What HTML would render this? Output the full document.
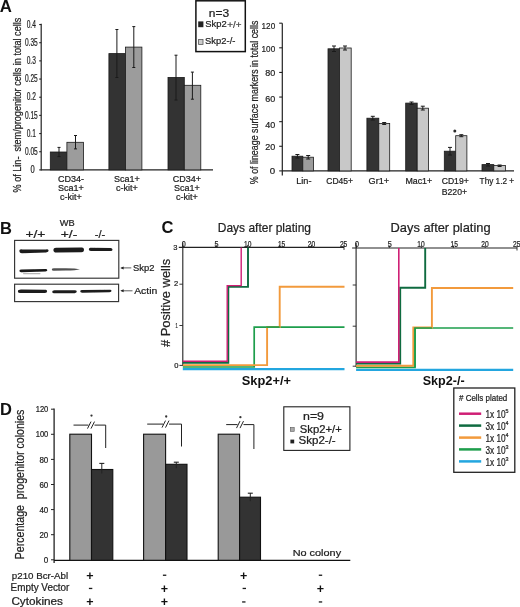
<!DOCTYPE html>
<html><head><meta charset="utf-8"><style>
html,body{margin:0;padding:0;background:#fff;}
svg{display:block;font-family:"Liberation Sans", sans-serif;will-change:transform;}
</style></head><body>
<svg width="520" height="607" viewBox="0 0 520 607">
<rect width="520" height="607" fill="#fff"/>
<text x="-0.2" y="12.4" font-size="16.8" text-anchor="start" font-weight="bold" fill="#111" >A</text>
<line x1="41.2" y1="23.8" x2="41.2" y2="170.6" stroke="#222" stroke-width="1.2" />
<line x1="41.2" y1="169.9" x2="213" y2="169.9" stroke="#222" stroke-width="1.4" />
<line x1="39.2" y1="169.9" x2="41.2" y2="169.9" stroke="#222" stroke-width="1.1" />
<text x="32.6" y="173.1" font-size="10" text-anchor="middle" stroke="#222" stroke-width="0.22" fill="#222" textLength="4.2" lengthAdjust="spacingAndGlyphs" >0</text>
<line x1="39.2" y1="151.73" x2="41.2" y2="151.73" stroke="#222" stroke-width="1.1" />
<text x="31.3" y="154.93" font-size="10" text-anchor="middle" stroke="#222" stroke-width="0.22" fill="#222" textLength="12.8" lengthAdjust="spacingAndGlyphs" >0.05</text>
<line x1="39.2" y1="133.56" x2="41.2" y2="133.56" stroke="#222" stroke-width="1.1" />
<text x="31.3" y="136.76" font-size="10" text-anchor="middle" stroke="#222" stroke-width="0.22" fill="#222" textLength="9.2" lengthAdjust="spacingAndGlyphs" >0.1</text>
<line x1="39.2" y1="115.38" x2="41.2" y2="115.38" stroke="#222" stroke-width="1.1" />
<text x="31.3" y="118.58" font-size="10" text-anchor="middle" stroke="#222" stroke-width="0.22" fill="#222" textLength="12.8" lengthAdjust="spacingAndGlyphs" >0.15</text>
<line x1="39.2" y1="97.22" x2="41.2" y2="97.22" stroke="#222" stroke-width="1.1" />
<text x="31.3" y="100.42" font-size="10" text-anchor="middle" stroke="#222" stroke-width="0.22" fill="#222" textLength="9.2" lengthAdjust="spacingAndGlyphs" >0.2</text>
<line x1="39.2" y1="79.05" x2="41.2" y2="79.05" stroke="#222" stroke-width="1.1" />
<text x="31.3" y="82.25" font-size="10" text-anchor="middle" stroke="#222" stroke-width="0.22" fill="#222" textLength="12.8" lengthAdjust="spacingAndGlyphs" >0.25</text>
<line x1="39.2" y1="60.87" x2="41.2" y2="60.87" stroke="#222" stroke-width="1.1" />
<text x="31.3" y="64.07" font-size="10" text-anchor="middle" stroke="#222" stroke-width="0.22" fill="#222" textLength="9.2" lengthAdjust="spacingAndGlyphs" >0.3</text>
<line x1="39.2" y1="42.70" x2="41.2" y2="42.70" stroke="#222" stroke-width="1.1" />
<text x="31.3" y="45.90" font-size="10" text-anchor="middle" stroke="#222" stroke-width="0.22" fill="#222" textLength="12.8" lengthAdjust="spacingAndGlyphs" >0.35</text>
<line x1="39.2" y1="24.53" x2="41.2" y2="24.53" stroke="#222" stroke-width="1.1" />
<text x="31.3" y="27.73" font-size="10" text-anchor="middle" stroke="#222" stroke-width="0.22" fill="#222" textLength="9.2" lengthAdjust="spacingAndGlyphs" >0.4</text>
<rect x="50.3" y="152" width="16.60" height="17.90" fill="#333333" stroke="#1a1a1a" stroke-width="0.8"/>
<rect x="66.9" y="142.3" width="16.59" height="27.59" fill="#9c9c9c" stroke="#1a1a1a" stroke-width="0.8"/>
<rect x="108.9" y="53.6" width="16.5" height="116.30" fill="#333333" stroke="#1a1a1a" stroke-width="0.8"/>
<rect x="125.4" y="47.1" width="16.5" height="122.80" fill="#9c9c9c" stroke="#1a1a1a" stroke-width="0.8"/>
<rect x="168" y="77.4" width="16.30" height="92.5" fill="#333333" stroke="#1a1a1a" stroke-width="0.8"/>
<rect x="184.3" y="85.3" width="16.5" height="84.60" fill="#9c9c9c" stroke="#1a1a1a" stroke-width="0.8"/>
<line x1="59" y1="147.4" x2="59" y2="156.6" stroke="#1a1a1a" stroke-width="1.0" />
<line x1="57.5" y1="147.4" x2="60.5" y2="147.4" stroke="#1a1a1a" stroke-width="1.0" />
<line x1="57.5" y1="156.6" x2="60.5" y2="156.6" stroke="#1a1a1a" stroke-width="1.0" />
<line x1="75.5" y1="135.5" x2="75.5" y2="148.9" stroke="#1a1a1a" stroke-width="1.0" />
<line x1="74.0" y1="135.5" x2="77.0" y2="135.5" stroke="#1a1a1a" stroke-width="1.0" />
<line x1="74.0" y1="148.9" x2="77.0" y2="148.9" stroke="#1a1a1a" stroke-width="1.0" />
<line x1="116.9" y1="29.5" x2="116.9" y2="77.5" stroke="#1a1a1a" stroke-width="1.0" />
<line x1="115.4" y1="29.5" x2="118.4" y2="29.5" stroke="#1a1a1a" stroke-width="1.0" />
<line x1="115.4" y1="77.5" x2="118.4" y2="77.5" stroke="#1a1a1a" stroke-width="1.0" />
<line x1="133.8" y1="26.6" x2="133.8" y2="67.5" stroke="#1a1a1a" stroke-width="1.0" />
<line x1="132.3" y1="26.6" x2="135.3" y2="26.6" stroke="#1a1a1a" stroke-width="1.0" />
<line x1="132.3" y1="67.5" x2="135.3" y2="67.5" stroke="#1a1a1a" stroke-width="1.0" />
<line x1="176" y1="55.2" x2="176" y2="100" stroke="#1a1a1a" stroke-width="1.0" />
<line x1="174.5" y1="55.2" x2="177.5" y2="55.2" stroke="#1a1a1a" stroke-width="1.0" />
<line x1="174.5" y1="100" x2="177.5" y2="100" stroke="#1a1a1a" stroke-width="1.0" />
<line x1="192.4" y1="72.1" x2="192.4" y2="99.2" stroke="#1a1a1a" stroke-width="1.0" />
<line x1="190.9" y1="72.1" x2="193.9" y2="72.1" stroke="#1a1a1a" stroke-width="1.0" />
<line x1="190.9" y1="99.2" x2="193.9" y2="99.2" stroke="#1a1a1a" stroke-width="1.0" />
<text x="71" y="182" font-size="9" text-anchor="middle" stroke="#222" stroke-width="0.22" fill="#222" >CD34-</text>
<text x="71" y="191" font-size="9" text-anchor="middle" stroke="#222" stroke-width="0.22" fill="#222" >Sca1+</text>
<text x="71" y="200" font-size="9" text-anchor="middle" stroke="#222" stroke-width="0.22" fill="#222" >c-kit+</text>
<text x="127" y="182" font-size="9" text-anchor="middle" stroke="#222" stroke-width="0.22" fill="#222" >Sca1+</text>
<text x="127" y="191" font-size="9" text-anchor="middle" stroke="#222" stroke-width="0.22" fill="#222" >c-kit+</text>
<text x="187" y="182" font-size="9" text-anchor="middle" stroke="#222" stroke-width="0.22" fill="#222" >CD34+</text>
<text x="187" y="191" font-size="9" text-anchor="middle" stroke="#222" stroke-width="0.22" fill="#222" >Sca1+</text>
<text x="187" y="200" font-size="9" text-anchor="middle" stroke="#222" stroke-width="0.22" fill="#222" >c-kit+</text>
<text x="20.8" y="192.4" font-size="10.6" text-anchor="start" stroke="#222" stroke-width="0.22" fill="#222" textLength="174.7" lengthAdjust="spacingAndGlyphs" transform="rotate(-90 20.8 192.4)" >% of Lin-&#160; stem/progenitor cells in total cells</text>
<rect x="195.9" y="0.8" width="49.4" height="50.8" fill="#fff" stroke="#111" stroke-width="1.5"/>
<text x="218.9" y="16.5" font-size="10" text-anchor="middle" stroke="#222" stroke-width="0.22" fill="#222" textLength="20.3" lengthAdjust="spacingAndGlyphs" >n=3</text>
<rect x="198.2" y="21.4" width="5.2" height="5.8" fill="#222"/>
<text x="205.3" y="27" font-size="9.5" text-anchor="start" stroke="#222" stroke-width="0.22" fill="#222" textLength="21.4" lengthAdjust="spacingAndGlyphs" >Skp2</text>
<text x="227.2" y="27.6" font-size="9.4" text-anchor="start" stroke="#444" stroke-width="0.22" fill="#444" textLength="14.2" lengthAdjust="spacingAndGlyphs" >+/+</text>
<rect x="198.6" y="39.5" width="4.4" height="4.9" fill="#ccc" stroke="#555" stroke-width="0.8"/>
<text x="205.1" y="44.4" font-size="9.3" text-anchor="start" stroke="#222" stroke-width="0.22" fill="#222" textLength="30.3" lengthAdjust="spacingAndGlyphs" >Skp2-/-</text>
<line x1="282.3" y1="23.2" x2="282.3" y2="175.4" stroke="#222" stroke-width="1.2" />
<line x1="282.3" y1="170.9" x2="514" y2="170.9" stroke="#222" stroke-width="1.4" />
<line x1="279.2" y1="170.9" x2="282.3" y2="170.9" stroke="#222" stroke-width="1.1" />
<text x="275.2" y="173.5" font-size="9.8" text-anchor="end" stroke="#222" stroke-width="0.22" fill="#222" textLength="5.4" lengthAdjust="spacingAndGlyphs" >0</text>
<line x1="279.2" y1="146.28" x2="282.3" y2="146.28" stroke="#222" stroke-width="1.1" />
<text x="275.2" y="149.6" font-size="9.8" text-anchor="end" stroke="#222" stroke-width="0.22" fill="#222" textLength="10.0" lengthAdjust="spacingAndGlyphs" >20</text>
<line x1="279.2" y1="121.66" x2="282.3" y2="121.66" stroke="#222" stroke-width="1.1" />
<text x="275.2" y="127.5" font-size="9.8" text-anchor="end" stroke="#222" stroke-width="0.22" fill="#222" textLength="10.0" lengthAdjust="spacingAndGlyphs" >40</text>
<line x1="279.2" y1="97.05" x2="282.3" y2="97.05" stroke="#222" stroke-width="1.1" />
<text x="275.2" y="102.1" font-size="9.8" text-anchor="end" stroke="#222" stroke-width="0.22" fill="#222" textLength="10.0" lengthAdjust="spacingAndGlyphs" >60</text>
<line x1="279.2" y1="72.43" x2="282.3" y2="72.43" stroke="#222" stroke-width="1.1" />
<text x="275.2" y="76.2" font-size="9.8" text-anchor="end" stroke="#222" stroke-width="0.22" fill="#222" textLength="10.0" lengthAdjust="spacingAndGlyphs" >80</text>
<line x1="279.2" y1="47.81" x2="282.3" y2="47.81" stroke="#222" stroke-width="1.1" />
<text x="275.2" y="52.0" font-size="9.8" text-anchor="end" stroke="#222" stroke-width="0.22" fill="#222" textLength="13.6" lengthAdjust="spacingAndGlyphs" >100</text>
<line x1="279.2" y1="23.19" x2="282.3" y2="23.19" stroke="#222" stroke-width="1.1" />
<text x="275.2" y="29.1" font-size="9.8" text-anchor="end" stroke="#222" stroke-width="0.22" fill="#222" textLength="13.6" lengthAdjust="spacingAndGlyphs" >120</text>
<rect x="292" y="156.2" width="10.80" height="14.70" fill="#333333" stroke="#1a1a1a" stroke-width="0.8"/>
<rect x="302.8" y="157.2" width="10.69" height="13.70" fill="#9c9c9c" stroke="#1a1a1a" stroke-width="0.8"/>
<rect x="328" y="48.8" width="11.5" height="122.10" fill="#333333" stroke="#1a1a1a" stroke-width="0.8"/>
<rect x="339.5" y="48" width="11.69" height="122.9" fill="#c8c8c8" stroke="#1a1a1a" stroke-width="0.8"/>
<rect x="366.9" y="118.2" width="11.90" height="52.7" fill="#333333" stroke="#1a1a1a" stroke-width="0.8"/>
<rect x="378.8" y="123.5" width="10.89" height="47.40" fill="#c8c8c8" stroke="#1a1a1a" stroke-width="0.8"/>
<rect x="405.7" y="103.1" width="11.5" height="67.80" fill="#333333" stroke="#1a1a1a" stroke-width="0.8"/>
<rect x="417.2" y="108.2" width="11.30" height="62.7" fill="#c8c8c8" stroke="#1a1a1a" stroke-width="0.8"/>
<rect x="444.3" y="151.2" width="11.39" height="19.70" fill="#333333" stroke="#1a1a1a" stroke-width="0.8"/>
<rect x="455.7" y="135.7" width="11.19" height="35.20" fill="#c8c8c8" stroke="#1a1a1a" stroke-width="0.8"/>
<rect x="482" y="164.6" width="11.80" height="6.30" fill="#333333" stroke="#1a1a1a" stroke-width="0.8"/>
<rect x="493.8" y="165.5" width="11.59" height="5.40" fill="#c8c8c8" stroke="#1a1a1a" stroke-width="0.8"/>
<line x1="297.4" y1="154.5" x2="297.4" y2="158" stroke="#1a1a1a" stroke-width="1.0" />
<line x1="295.4" y1="154.5" x2="299.4" y2="154.5" stroke="#1a1a1a" stroke-width="1.0" />
<line x1="295.4" y1="158" x2="299.4" y2="158" stroke="#1a1a1a" stroke-width="1.0" />
<line x1="308.2" y1="155.5" x2="308.2" y2="159" stroke="#1a1a1a" stroke-width="1.0" />
<line x1="306.2" y1="155.5" x2="310.2" y2="155.5" stroke="#1a1a1a" stroke-width="1.0" />
<line x1="306.2" y1="159" x2="310.2" y2="159" stroke="#1a1a1a" stroke-width="1.0" />
<line x1="334" y1="46" x2="334" y2="51.5" stroke="#1a1a1a" stroke-width="1.0" />
<line x1="332" y1="46" x2="336" y2="46" stroke="#1a1a1a" stroke-width="1.0" />
<line x1="332" y1="51.5" x2="336" y2="51.5" stroke="#1a1a1a" stroke-width="1.0" />
<line x1="345" y1="46" x2="345" y2="50" stroke="#1a1a1a" stroke-width="1.0" />
<line x1="343" y1="46" x2="347" y2="46" stroke="#1a1a1a" stroke-width="1.0" />
<line x1="343" y1="50" x2="347" y2="50" stroke="#1a1a1a" stroke-width="1.0" />
<line x1="372.8" y1="116.3" x2="372.8" y2="120" stroke="#1a1a1a" stroke-width="1.0" />
<line x1="370.8" y1="116.3" x2="374.8" y2="116.3" stroke="#1a1a1a" stroke-width="1.0" />
<line x1="370.8" y1="120" x2="374.8" y2="120" stroke="#1a1a1a" stroke-width="1.0" />
<line x1="384.2" y1="122.5" x2="384.2" y2="124.5" stroke="#1a1a1a" stroke-width="1.0" />
<line x1="382.2" y1="122.5" x2="386.2" y2="122.5" stroke="#1a1a1a" stroke-width="1.0" />
<line x1="382.2" y1="124.5" x2="386.2" y2="124.5" stroke="#1a1a1a" stroke-width="1.0" />
<line x1="411.5" y1="102" x2="411.5" y2="104.5" stroke="#1a1a1a" stroke-width="1.0" />
<line x1="409.5" y1="102" x2="413.5" y2="102" stroke="#1a1a1a" stroke-width="1.0" />
<line x1="409.5" y1="104.5" x2="413.5" y2="104.5" stroke="#1a1a1a" stroke-width="1.0" />
<line x1="422.8" y1="106.2" x2="422.8" y2="110" stroke="#1a1a1a" stroke-width="1.0" />
<line x1="420.8" y1="106.2" x2="424.8" y2="106.2" stroke="#1a1a1a" stroke-width="1.0" />
<line x1="420.8" y1="110" x2="424.8" y2="110" stroke="#1a1a1a" stroke-width="1.0" />
<line x1="450" y1="147.4" x2="450" y2="155" stroke="#1a1a1a" stroke-width="1.0" />
<line x1="448" y1="147.4" x2="452" y2="147.4" stroke="#1a1a1a" stroke-width="1.0" />
<line x1="448" y1="155" x2="452" y2="155" stroke="#1a1a1a" stroke-width="1.0" />
<line x1="461.3" y1="134.7" x2="461.3" y2="136.7" stroke="#1a1a1a" stroke-width="1.0" />
<line x1="459.3" y1="134.7" x2="463.3" y2="134.7" stroke="#1a1a1a" stroke-width="1.0" />
<line x1="459.3" y1="136.7" x2="463.3" y2="136.7" stroke="#1a1a1a" stroke-width="1.0" />
<line x1="488" y1="163.5" x2="488" y2="166" stroke="#1a1a1a" stroke-width="1.0" />
<line x1="486" y1="163.5" x2="490" y2="163.5" stroke="#1a1a1a" stroke-width="1.0" />
<line x1="486" y1="166" x2="490" y2="166" stroke="#1a1a1a" stroke-width="1.0" />
<line x1="499.6" y1="165" x2="499.6" y2="166.5" stroke="#1a1a1a" stroke-width="1.0" />
<line x1="497.6" y1="165" x2="501.6" y2="165" stroke="#1a1a1a" stroke-width="1.0" />
<line x1="497.6" y1="166.5" x2="501.6" y2="166.5" stroke="#1a1a1a" stroke-width="1.0" />
<circle cx="454.8" cy="131.1" r="1.5" fill="#2a2a2a"/>
<text x="303.8" y="183.9" font-size="9" text-anchor="middle" stroke="#222" stroke-width="0.22" fill="#222" textLength="15.3" lengthAdjust="spacingAndGlyphs" >Lin-</text>
<text x="339.7" y="183.9" font-size="9" text-anchor="middle" stroke="#222" stroke-width="0.22" fill="#222" textLength="26.7" lengthAdjust="spacingAndGlyphs" >CD45+</text>
<text x="378.8" y="183.9" font-size="9" text-anchor="middle" stroke="#222" stroke-width="0.22" fill="#222" textLength="20.5" lengthAdjust="spacingAndGlyphs" >Gr1+</text>
<text x="418.8" y="183.9" font-size="9" text-anchor="middle" stroke="#222" stroke-width="0.22" fill="#222" textLength="26.8" lengthAdjust="spacingAndGlyphs" >Mac1+</text>
<text x="455.2" y="183.9" font-size="9" text-anchor="middle" stroke="#222" stroke-width="0.22" fill="#222" textLength="27" lengthAdjust="spacingAndGlyphs" >CD19+</text>
<text x="496.9" y="183.9" font-size="9" text-anchor="middle" stroke="#222" stroke-width="0.22" fill="#222" textLength="34.6" lengthAdjust="spacingAndGlyphs" >Thy 1.2 +</text>
<text x="454.4" y="195.3" font-size="9" text-anchor="middle" stroke="#222" stroke-width="0.22" fill="#222" textLength="25.3" lengthAdjust="spacingAndGlyphs" >B220+</text>
<text x="258" y="184.2" font-size="10.5" text-anchor="start" stroke="#222" stroke-width="0.22" fill="#222" textLength="163.6" lengthAdjust="spacingAndGlyphs" transform="rotate(-90 258 184.2)" >% of lineage surface markers in total cells</text>
<text x="0" y="234.3" font-size="16.5" text-anchor="start" font-weight="bold" fill="#111" >B</text>
<text x="35.4" y="238.3" font-size="10" text-anchor="middle" stroke="#222" stroke-width="0.22" fill="#222" textLength="20" lengthAdjust="spacingAndGlyphs" >+/+</text>
<text x="67.2" y="226" font-size="9" text-anchor="middle" stroke="#222" stroke-width="0.22" fill="#222" textLength="14.9" lengthAdjust="spacingAndGlyphs" >WB</text>
<text x="69" y="238.3" font-size="10" text-anchor="middle" stroke="#222" stroke-width="0.22" fill="#222" textLength="16.5" lengthAdjust="spacingAndGlyphs" >+/-</text>
<text x="100" y="238.3" font-size="10" text-anchor="middle" stroke="#222" stroke-width="0.22" fill="#222" textLength="10.5" lengthAdjust="spacingAndGlyphs" >-/-</text>
<rect x="14.6" y="240.4" width="104.2" height="37.8" fill="none" stroke="#333" stroke-width="1.15"/>
<rect x="14.6" y="284.2" width="104" height="17.4" fill="none" stroke="#333" stroke-width="1.15"/>
<defs><filter id="bl" x="-10%" y="-100%" width="120%" height="300%"><feGaussianBlur stdDeviation="0.65"/></filter></defs>
<path d="M19.3 250.9 Q19.5 253.6 22.5 253.3 L46 252.5 Q48.8 252.2 48.6 250.5 Q48.3 249 46 249.4 L22.5 249.4 Q19.3 248.6 19.3 250.9 Z" fill="#1c1c1c" opacity="1" filter="url(#bl)"/>
<path d="M53.4 249.8 Q53.4 252.8 56.5 252.6 L81.5 252.2 Q84.2 251.8 84 249.4 Q83.8 247 81 247.6 L56.5 247.8 Q53.4 247.6 53.4 249.8 Z" fill="#1c1c1c" opacity="1" filter="url(#bl)"/>
<path d="M88.8 249.3 Q88.8 251.2 91 251.1 L110.5 251.1 Q112.6 251 112.5 249.4 Q112.3 247.8 110.5 247.9 L91 247.8 Q88.8 247.6 88.8 249.3 Z" fill="#1c1c1c" opacity="1" filter="url(#bl)"/>
<path d="M19.4 270.8 Q19.4 272.4 21.5 272.2 L45.5 271.5 Q47.4 271.2 47.3 270.2 Q47.1 268.8 45.5 269 L21.5 269.4 Q19.4 269.4 19.4 270.8 Z" fill="#161616" opacity="1" filter="url(#bl)"/>
<rect x="23" y="273.05" width="17.5" height="1.1" rx="0.55" fill="#777" opacity="0.55" filter="url(#bl)"/>
<path d="M51.8 269.6 Q51.8 270.9 54 270.8 L66 270.5 Q76 270.2 80 269.4 Q76 268.4 66 268.3 L54 268.3 Q51.8 268.3 51.8 269.6 Z" fill="#333" opacity="0.85" filter="url(#bl)"/>
<path d="M17.9 291.4 Q17.9 293.2 21 293 L45 292.9 Q47.2 292.8 47.1 291.2 Q47 289.7 45 289.8 L21 289.6 Q17.9 289.6 17.9 291.4 Z" fill="#1c1c1c" opacity="1" filter="url(#bl)"/>
<path d="M52.2 291.8 Q52.2 293.4 54.5 293.3 L74.5 293.2 Q77 293 76.8 291.6 Q76.6 290.2 74.5 290.3 L54.5 290.2 Q52.2 290.2 52.2 291.8 Z" fill="#1c1c1c" opacity="1" filter="url(#bl)"/>
<path d="M80.2 291.3 Q80.2 292.8 82.5 292.7 L109.5 292.2 Q111.6 292 111.5 290.8 Q111.4 289.6 109.5 289.8 L82.5 289.9 Q80.2 289.8 80.2 291.3 Z" fill="#1c1c1c" opacity="1" filter="url(#bl)"/>
<line x1="121.5" y1="267.9" x2="131.3" y2="267.9" stroke="#333" stroke-width="0.8" />
<path d="M120.3 267.9 L123.6 266.4 L123.6 269.4 Z" fill="#222"/>
<line x1="121.5" y1="290.8" x2="132.5" y2="290.8" stroke="#333" stroke-width="0.8" />
<path d="M120.3 290.8 L123.6 289.3 L123.6 292.3 Z" fill="#222"/>
<text x="133" y="271.2" font-size="9.4" text-anchor="start" stroke="#222" stroke-width="0.22" fill="#222" textLength="21.4" lengthAdjust="spacingAndGlyphs" >Skp2</text>
<text x="134.2" y="293.7" font-size="9.4" text-anchor="start" stroke="#222" stroke-width="0.22" fill="#222" textLength="23.1" lengthAdjust="spacingAndGlyphs" >Actin</text>
<text x="161.6" y="233.4" font-size="16.5" text-anchor="start" font-weight="bold" fill="#111" >C</text>
<line x1="178.8" y1="247.4" x2="344" y2="247.4" stroke="#222" stroke-width="1.2" />
<line x1="182.8" y1="242.4" x2="182.8" y2="365.9" stroke="#222" stroke-width="1.1" />
<line x1="182.8" y1="244.9" x2="182.8" y2="247.4" stroke="#222" stroke-width="0.9" />
<text x="183.7" y="246.5" font-size="8.3" text-anchor="middle" stroke="#222" stroke-width="0.22" fill="#222" textLength="4.0" lengthAdjust="spacingAndGlyphs" >0</text>
<line x1="216.2" y1="244.9" x2="216.2" y2="247.4" stroke="#222" stroke-width="0.9" />
<text x="216.6" y="246.5" font-size="8.3" text-anchor="middle" stroke="#222" stroke-width="0.22" fill="#222" textLength="4.0" lengthAdjust="spacingAndGlyphs" >5</text>
<line x1="247.7" y1="244.9" x2="247.7" y2="247.4" stroke="#222" stroke-width="0.9" />
<text x="247.7" y="246.5" font-size="8.3" text-anchor="middle" stroke="#222" stroke-width="0.22" fill="#222" textLength="7.4" lengthAdjust="spacingAndGlyphs" >10</text>
<line x1="279.4" y1="244.9" x2="279.4" y2="247.4" stroke="#222" stroke-width="0.9" />
<text x="281.6" y="246.5" font-size="8.3" text-anchor="middle" stroke="#222" stroke-width="0.22" fill="#222" textLength="7.4" lengthAdjust="spacingAndGlyphs" >15</text>
<line x1="311.5" y1="244.9" x2="311.5" y2="247.4" stroke="#222" stroke-width="0.9" />
<text x="311.5" y="246.5" font-size="8.3" text-anchor="middle" stroke="#222" stroke-width="0.22" fill="#222" textLength="7.4" lengthAdjust="spacingAndGlyphs" >20</text>
<line x1="344" y1="244.9" x2="344" y2="247.4" stroke="#222" stroke-width="0.9" />
<text x="343.6" y="246.5" font-size="8.3" text-anchor="middle" stroke="#222" stroke-width="0.22" fill="#222" textLength="7.4" lengthAdjust="spacingAndGlyphs" >25</text>
<line x1="344" y1="247.4" x2="344" y2="249.9" stroke="#222" stroke-width="0.9" />
<line x1="179.4" y1="284.2" x2="182.8" y2="284.2" stroke="#222" stroke-width="0.9" />
<line x1="179.4" y1="325.5" x2="182.8" y2="325.5" stroke="#222" stroke-width="0.9" />
<line x1="179.4" y1="365.4" x2="182.8" y2="365.4" stroke="#222" stroke-width="0.9" />
<text x="175.4" y="249.8" font-size="7.2" text-anchor="middle" stroke="#222" stroke-width="0.22" fill="#222" textLength="4.2" lengthAdjust="spacingAndGlyphs" >3</text>
<text x="176.2" y="286.1" font-size="7.2" text-anchor="middle" stroke="#222" stroke-width="0.22" fill="#222" textLength="4.2" lengthAdjust="spacingAndGlyphs" >2</text>
<text x="176.6" y="327.6" font-size="7.2" text-anchor="middle" stroke="#222" stroke-width="0.22" fill="#222" textLength="2.2" lengthAdjust="spacingAndGlyphs" >1</text>
<text x="176.3" y="367.8" font-size="7.2" text-anchor="middle" stroke="#222" stroke-width="0.22" fill="#222" textLength="4.2" lengthAdjust="spacingAndGlyphs" >0</text>
<text x="217.8" y="231.9" font-size="13" text-anchor="start" stroke="#222" stroke-width="0.22" fill="#222" textLength="93.2" lengthAdjust="spacingAndGlyphs" >Days after plating</text>
<text x="170.5" y="347.1" font-size="12.8" text-anchor="start" stroke="#222" stroke-width="0.22" fill="#222" textLength="88.4" lengthAdjust="spacingAndGlyphs" transform="rotate(-90 170.5 347.1)" ># Positive wells</text>
<line x1="352.1" y1="248" x2="517" y2="248" stroke="#222" stroke-width="1.2" />
<line x1="356.1" y1="243" x2="356.1" y2="366.7" stroke="#222" stroke-width="1.1" />
<line x1="356.4" y1="245.5" x2="356.4" y2="248" stroke="#222" stroke-width="0.9" />
<text x="357.1" y="247.1" font-size="8.3" text-anchor="middle" stroke="#222" stroke-width="0.22" fill="#222" textLength="4.0" lengthAdjust="spacingAndGlyphs" >0</text>
<line x1="389.3" y1="245.5" x2="389.3" y2="248" stroke="#222" stroke-width="0.9" />
<text x="389.8" y="247.1" font-size="8.3" text-anchor="middle" stroke="#222" stroke-width="0.22" fill="#222" textLength="4.0" lengthAdjust="spacingAndGlyphs" >5</text>
<line x1="421.3" y1="245.5" x2="421.3" y2="248" stroke="#222" stroke-width="0.9" />
<text x="420.9" y="247.1" font-size="8.3" text-anchor="middle" stroke="#222" stroke-width="0.22" fill="#222" textLength="7.4" lengthAdjust="spacingAndGlyphs" >10</text>
<line x1="453.3" y1="245.5" x2="453.3" y2="248" stroke="#222" stroke-width="0.9" />
<text x="454.2" y="247.1" font-size="8.3" text-anchor="middle" stroke="#222" stroke-width="0.22" fill="#222" textLength="7.4" lengthAdjust="spacingAndGlyphs" >15</text>
<line x1="485.2" y1="245.5" x2="485.2" y2="248" stroke="#222" stroke-width="0.9" />
<text x="485" y="247.1" font-size="8.3" text-anchor="middle" stroke="#222" stroke-width="0.22" fill="#222" textLength="7.4" lengthAdjust="spacingAndGlyphs" >20</text>
<line x1="517" y1="245.5" x2="517" y2="248" stroke="#222" stroke-width="0.9" />
<text x="516.7" y="247.1" font-size="8.3" text-anchor="middle" stroke="#222" stroke-width="0.22" fill="#222" textLength="7.4" lengthAdjust="spacingAndGlyphs" >25</text>
<line x1="517" y1="248" x2="517" y2="250.5" stroke="#222" stroke-width="0.9" />
<line x1="352.70" y1="285" x2="356.1" y2="285" stroke="#222" stroke-width="0.9" />
<line x1="352.70" y1="326.2" x2="356.1" y2="326.2" stroke="#222" stroke-width="0.9" />
<line x1="352.70" y1="366.2" x2="356.1" y2="366.2" stroke="#222" stroke-width="0.9" />
<text x="390.6" y="231.9" font-size="13" text-anchor="start" stroke="#222" stroke-width="0.22" fill="#222" textLength="100" lengthAdjust="spacingAndGlyphs" >Days after plating</text>
<path d="M182.8 369.2 L344.5 369.2" stroke="#23a6df" stroke-width="2.3" fill="none" stroke-linejoin="miter" stroke-linecap="butt"/>
<path d="M182.8 367 L254.2 367 L254.2 327.1 L344.5 327.1" stroke="#1e9e4c" stroke-width="1.7" fill="none" stroke-linejoin="miter" stroke-linecap="butt"/>
<path d="M182.8 365.1 L267.1 365.1 L267.1 327.1 L279.7 327.1 L279.7 286.8 L344.5 286.8" stroke="#f29a3c" stroke-width="1.9" fill="none" stroke-linejoin="miter" stroke-linecap="butt"/>
<path d="M182.8 362.8 L228.3 362.8 L228.3 286.9 L248 286.9 L248 247.4" stroke="#0f6b40" stroke-width="1.9" fill="none" stroke-linejoin="miter" stroke-linecap="butt"/>
<path d="M182.8 361.2 L227.2 361.2 L227.2 285.6 L241.2 285.6 L241.2 247.4" stroke="#cf1f75" stroke-width="1.4" fill="none" stroke-linejoin="miter" stroke-linecap="butt"/>
<path d="M266.2 327.1 L279.7 327.1" stroke="#1e9e4c" stroke-width="1.7" fill="none" stroke-linejoin="miter" stroke-linecap="butt"/>
<path d="M356.1 369.9 L513.2 369.9" stroke="#23a6df" stroke-width="2.3" fill="none" stroke-linejoin="miter" stroke-linecap="butt"/>
<path d="M356.1 367.3 L415 367.3 L415 328 L513.2 328" stroke="#1e9e4c" stroke-width="1.7" fill="none" stroke-linejoin="miter" stroke-linecap="butt"/>
<path d="M356.1 365.8 L413.3 365.8 L413.3 327.5 L431.9 327.5 L431.9 288 L513.2 288" stroke="#f29a3c" stroke-width="1.9" fill="none" stroke-linejoin="miter" stroke-linecap="butt"/>
<path d="M356.1 363.6 L400.2 363.6 L400.2 287.7 L425.2 287.7 L425.2 248" stroke="#0f6b40" stroke-width="1.9" fill="none" stroke-linejoin="miter" stroke-linecap="butt"/>
<path d="M356.1 362.1 L398.8 362.1 L398.8 248" stroke="#cf1f75" stroke-width="1.6" fill="none" stroke-linejoin="miter" stroke-linecap="butt"/>
<path d="M415 367.3 L415 328 L431.9 328" stroke="#1e9e4c" stroke-width="1.7" fill="none" stroke-linejoin="miter" stroke-linecap="butt"/>
<text x="241.7" y="385.2" font-size="12.5" text-anchor="start" font-weight="bold" fill="#111" textLength="49.3" lengthAdjust="spacingAndGlyphs" >Skp2+/+</text>
<text x="422.7" y="385.2" font-size="12.5" text-anchor="start" font-weight="bold" fill="#111" textLength="41.9" lengthAdjust="spacingAndGlyphs" >Skp2-/-</text>
<rect x="453.8" y="388" width="61" height="84.3" fill="#fff" stroke="#222" stroke-width="1.3"/>
<text x="459" y="400.6" font-size="9" text-anchor="start" stroke="#222" stroke-width="0.22" fill="#222" textLength="48.3" lengthAdjust="spacingAndGlyphs" ># Cells plated</text>
<line x1="459" y1="413.7" x2="481.2" y2="413.7" stroke="#cf1f75" stroke-width="2.5" />
<text x="485.5" y="418.0" font-size="10.8" text-anchor="start" stroke="#222" stroke-width="0.22" fill="#222" textLength="20.2" lengthAdjust="spacingAndGlyphs" >1x 10</text>
<text x="505.6" y="412.8" font-size="6" text-anchor="start" stroke="#222" stroke-width="0.22" fill="#222" textLength="3" lengthAdjust="spacingAndGlyphs" >5</text>
<line x1="459" y1="425.6" x2="481.2" y2="425.6" stroke="#0f6b40" stroke-width="2.5" />
<text x="485.5" y="429.90" font-size="10.8" text-anchor="start" stroke="#222" stroke-width="0.22" fill="#222" textLength="20.2" lengthAdjust="spacingAndGlyphs" >3x 10</text>
<text x="505.6" y="424.70" font-size="6" text-anchor="start" stroke="#222" stroke-width="0.22" fill="#222" textLength="3" lengthAdjust="spacingAndGlyphs" >4</text>
<line x1="459" y1="437.6" x2="481.2" y2="437.6" stroke="#f29a3c" stroke-width="2.5" />
<text x="485.5" y="441.90" font-size="10.8" text-anchor="start" stroke="#222" stroke-width="0.22" fill="#222" textLength="20.2" lengthAdjust="spacingAndGlyphs" >1x 10</text>
<text x="505.6" y="436.70" font-size="6" text-anchor="start" stroke="#222" stroke-width="0.22" fill="#222" textLength="3" lengthAdjust="spacingAndGlyphs" >4</text>
<line x1="459" y1="449.4" x2="481.2" y2="449.4" stroke="#1e9e4c" stroke-width="2.5" />
<text x="485.5" y="453.7" font-size="10.8" text-anchor="start" stroke="#222" stroke-width="0.22" fill="#222" textLength="20.2" lengthAdjust="spacingAndGlyphs" >3x 10</text>
<text x="505.6" y="448.5" font-size="6" text-anchor="start" stroke="#222" stroke-width="0.22" fill="#222" textLength="3" lengthAdjust="spacingAndGlyphs" >3</text>
<line x1="459" y1="461.4" x2="481.2" y2="461.4" stroke="#23a6df" stroke-width="2.5" />
<text x="485.5" y="465.7" font-size="10.8" text-anchor="start" stroke="#222" stroke-width="0.22" fill="#222" textLength="20.2" lengthAdjust="spacingAndGlyphs" >1x 10</text>
<text x="505.6" y="460.5" font-size="6" text-anchor="start" stroke="#222" stroke-width="0.22" fill="#222" textLength="3" lengthAdjust="spacingAndGlyphs" >3</text>
<text x="0" y="414.6" font-size="16.5" text-anchor="start" font-weight="bold" fill="#111" >D</text>
<line x1="54.1" y1="408.5" x2="54.1" y2="563" stroke="#111" stroke-width="1.2" />
<line x1="54.1" y1="560.3" x2="350.3" y2="560.3" stroke="#111" stroke-width="1.2" />
<line x1="51" y1="559.8" x2="54" y2="559.8" stroke="#222" stroke-width="1" />
<text x="48.3" y="562.9" font-size="8.4" text-anchor="end" stroke="#222" stroke-width="0.22" fill="#222" textLength="4.5" lengthAdjust="spacingAndGlyphs" >0</text>
<line x1="51" y1="534.69" x2="54" y2="534.69" stroke="#222" stroke-width="1" />
<text x="48.3" y="537.8" font-size="8.4" text-anchor="end" stroke="#222" stroke-width="0.22" fill="#222" textLength="8.9" lengthAdjust="spacingAndGlyphs" >20</text>
<line x1="51" y1="509.59" x2="54" y2="509.59" stroke="#222" stroke-width="1" />
<text x="48.3" y="512.69" font-size="8.4" text-anchor="end" stroke="#222" stroke-width="0.22" fill="#222" textLength="8.9" lengthAdjust="spacingAndGlyphs" >40</text>
<line x1="51" y1="484.5" x2="54" y2="484.5" stroke="#222" stroke-width="1" />
<text x="48.3" y="487.6" font-size="8.4" text-anchor="end" stroke="#222" stroke-width="0.22" fill="#222" textLength="8.9" lengthAdjust="spacingAndGlyphs" >60</text>
<line x1="51" y1="459.4" x2="54" y2="459.4" stroke="#222" stroke-width="1" />
<text x="48.3" y="462.5" font-size="8.4" text-anchor="end" stroke="#222" stroke-width="0.22" fill="#222" textLength="8.9" lengthAdjust="spacingAndGlyphs" >80</text>
<line x1="51" y1="434.29" x2="54" y2="434.29" stroke="#222" stroke-width="1" />
<text x="48.3" y="437.4" font-size="8.4" text-anchor="end" stroke="#222" stroke-width="0.22" fill="#222" textLength="12.6" lengthAdjust="spacingAndGlyphs" >100</text>
<line x1="51" y1="409.2" x2="54" y2="409.2" stroke="#222" stroke-width="1" />
<text x="48.3" y="412.3" font-size="8.4" text-anchor="end" stroke="#222" stroke-width="0.22" fill="#222" textLength="12.6" lengthAdjust="spacingAndGlyphs" >120</text>
<text x="23.7" y="559.2" font-size="12" text-anchor="start" stroke="#222" stroke-width="0.22" fill="#222" textLength="149.6" lengthAdjust="spacingAndGlyphs" transform="rotate(-90 23.7 559.2)" >Percentage&#160; progenitor colonies</text>
<rect x="69.8" y="434.2" width="21.70" height="126.09" fill="#999999" stroke="#111" stroke-width="1.1"/>
<rect x="91.5" y="469.5" width="21.29" height="90.79" fill="#333333" stroke="#111" stroke-width="1.1"/>
<line x1="101.8" y1="463.4" x2="101.8" y2="473.5" stroke="#222" stroke-width="1" />
<line x1="99.3" y1="463.4" x2="104.3" y2="463.4" stroke="#222" stroke-width="1.1" />
<rect x="143.6" y="434.2" width="22.0" height="126.09" fill="#999999" stroke="#111" stroke-width="1.1"/>
<rect x="165.6" y="464.3" width="21.40" height="95.99" fill="#333333" stroke="#111" stroke-width="1.1"/>
<line x1="176.3" y1="462.2" x2="176.3" y2="468.3" stroke="#222" stroke-width="1" />
<line x1="173.8" y1="462.2" x2="178.8" y2="462.2" stroke="#222" stroke-width="1.1" />
<rect x="218.2" y="434.2" width="21.40" height="126.09" fill="#999999" stroke="#111" stroke-width="1.1"/>
<rect x="239.6" y="497.2" width="20.90" height="63.09" fill="#333333" stroke="#111" stroke-width="1.1"/>
<line x1="250.3" y1="493.2" x2="250.3" y2="501.2" stroke="#222" stroke-width="1" />
<line x1="247.8" y1="493.2" x2="252.8" y2="493.2" stroke="#222" stroke-width="1.1" />
<path d="M73.5 425.1 L105.7 425.1 L105.7 448" stroke="#222" stroke-width="1" fill="none" />
<rect x="88.5" y="423.1" width="6" height="4" fill="#fff"/>
<line x1="87.5" y1="428.6" x2="91.0" y2="421.6" stroke="#222" stroke-width="1" />
<line x1="91.0" y1="428.6" x2="94.5" y2="421.6" stroke="#222" stroke-width="1" />
<circle cx="91.5" cy="415.6" r="1.15" fill="#333"/>
<path d="M147.2 424.1 L181.5 424.1 L181.5 446.5" stroke="#222" stroke-width="1" fill="none" />
<rect x="163" y="422.1" width="6" height="4" fill="#fff"/>
<line x1="162" y1="427.6" x2="165.5" y2="420.6" stroke="#222" stroke-width="1" />
<line x1="165.5" y1="427.6" x2="169" y2="420.6" stroke="#222" stroke-width="1" />
<circle cx="166.2" cy="416.5" r="1.15" fill="#333"/>
<path d="M226.2 424.6 L253.9 424.6 L253.9 449" stroke="#222" stroke-width="1" fill="none" />
<rect x="237.5" y="422.6" width="6" height="4" fill="#fff"/>
<line x1="236.5" y1="428.1" x2="240.0" y2="421.1" stroke="#222" stroke-width="1" />
<line x1="240.0" y1="428.1" x2="243.5" y2="421.1" stroke="#222" stroke-width="1" />
<circle cx="240.4" cy="417.2" r="1.15" fill="#333"/>
<rect x="283.8" y="406.8" width="66.1" height="43.6" fill="#fff" stroke="#222" stroke-width="1.1"/>
<text x="313.5" y="420.2" font-size="10" text-anchor="middle" stroke="#222" stroke-width="0.22" fill="#222" textLength="21" lengthAdjust="spacingAndGlyphs" >n=9</text>
<rect x="290.4" y="427.5" width="3.8" height="3.8" fill="#aaa" stroke="#555" stroke-width="0.6"/>
<text x="299.8" y="433" font-size="10" text-anchor="start" stroke="#222" stroke-width="0.22" fill="#222" textLength="42" lengthAdjust="spacingAndGlyphs" >Skp2+/+</text>
<rect x="290.4" y="439.6" width="3.8" height="3.8" fill="#222"/>
<text x="298.5" y="444.3" font-size="10" text-anchor="start" stroke="#222" stroke-width="0.22" fill="#222" textLength="37.2" lengthAdjust="spacingAndGlyphs" >Skp2-/-</text>
<text x="292.7" y="556.4" font-size="9.8" text-anchor="start" stroke="#222" stroke-width="0.22" fill="#222" textLength="48.4" lengthAdjust="spacingAndGlyphs" >No colony</text>
<text x="11.8" y="578.5" font-size="9.9" text-anchor="start" stroke="#222" stroke-width="0.22" fill="#222" textLength="56.4" lengthAdjust="spacingAndGlyphs" >p210 Bcr-Abl</text>
<text x="10.6" y="590.6" font-size="10" text-anchor="start" stroke="#222" stroke-width="0.22" fill="#222" textLength="58.8" lengthAdjust="spacingAndGlyphs" >Empty Vector</text>
<text x="11.4" y="604.7" font-size="10.3" text-anchor="start" stroke="#222" stroke-width="0.22" fill="#222" textLength="51.6" lengthAdjust="spacingAndGlyphs" >Cytokines</text>
<text x="90" y="579.69" font-size="12.5" text-anchor="middle" font-weight="bold" fill="#111" >+</text>
<rect x="88.9" y="587.8" width="3.4" height="1.3" fill="#1a1a1a"/>
<text x="90" y="606.4" font-size="12.5" text-anchor="middle" font-weight="bold" fill="#111" >+</text>
<rect x="162.9" y="574.59" width="3.4" height="1.3" fill="#1a1a1a"/>
<text x="164.5" y="592.9" font-size="12.5" text-anchor="middle" font-weight="bold" fill="#111" >+</text>
<text x="164.5" y="606.4" font-size="12.5" text-anchor="middle" font-weight="bold" fill="#111" >+</text>
<text x="243.7" y="579.69" font-size="12.5" text-anchor="middle" font-weight="bold" fill="#111" >+</text>
<rect x="242.6" y="587.8" width="3.4" height="1.3" fill="#1a1a1a"/>
<rect x="242.1" y="601.3" width="3.4" height="1.3" fill="#1a1a1a"/>
<rect x="318.79" y="574.59" width="3.4" height="1.3" fill="#1a1a1a"/>
<text x="320.4" y="592.9" font-size="12.5" text-anchor="middle" font-weight="bold" fill="#111" >+</text>
<rect x="318.79" y="601.3" width="3.4" height="1.3" fill="#1a1a1a"/>
</svg></body></html>
